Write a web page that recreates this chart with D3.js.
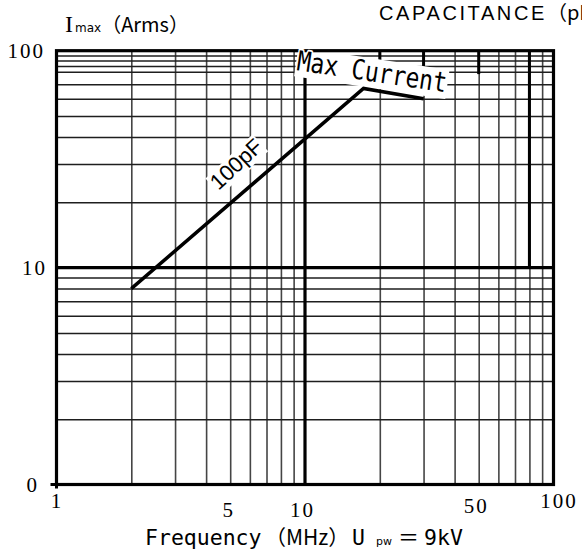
<!DOCTYPE html>
<html>
<head>
<meta charset="utf-8">
<script src="https://cdn.jsdelivr.net/npm/d3@7"></script>
<style>
  body { margin: 0; background: #fff; }
  svg { display: block; }
</style>
</head>
<body>
<div id="chart"></div>
<script>
// chart values
const curveFreq = [2, 17.2, 30];        // MHz
const curveAmps = [8, 67, 60];          // Arms
const xTickValues = [1, 5, 10, 50, 100];
const xTickLabels = ["1", "5", "10", "50", "100"];
const yTickValues = [1, 10, 100];
const yTickLabels = ["0", "10", "100"];
const xGridValues = [2, 3, 4, 5, 6, 7, 8, 9, 20, 30, 40, 50, 60, 70, 80, 90];
const yGridValues = [2, 3, 4, 5, 6, 7, 8, 9, 20, 30, 40, 50, 60, 70, 80, 85, 90, 95];
const heavyFreq = [10];
const heavyAmps = [10];
// heavy partial verticals: frequency and the lower end they reach from the top
const stubFreq = [20, 30, 50, 80];
const stubLow = [88, 79, 78, 10];

const W = 582, H = 550;
const pLeft = 56.5, pRight = 553.5, pTop = 50.7, pBottom = 484.5;

const svg = d3.select("#chart").append("svg")
  .attr("width", W)
  .attr("height", H);

const x = d3.scaleLog().domain([1, 100]).range([pLeft, pRight]);
const y = d3.scaleLog().domain([1, 100]).range([pBottom, pTop]);

// grid lines through the axes
const xGrid = svg.append("g")
  .attr("class", "grid x-grid")
  .attr("transform", "translate(0," + pBottom + ")")
  .call(d3.axisBottom(x).tickValues(xGridValues).tickSize(-(pBottom - pTop)).tickFormat(""));
xGrid.select(".domain").remove();
xGrid.selectAll("line").attr("stroke", "#454545").attr("stroke-width", 1.6);

const yGrid = svg.append("g")
  .attr("class", "grid y-grid")
  .attr("transform", "translate(" + pLeft + ",0)")
  .call(d3.axisLeft(y).tickValues(yGridValues).tickSize(-(pRight - pLeft)).tickFormat(""));
yGrid.select(".domain").remove();
yGrid.selectAll("line").attr("stroke", "#1e1e1e").attr("stroke-width", 1.5);

// heavy lines
svg.append("g").selectAll("line")
  .data(heavyFreq)
  .join("line")
    .attr("x1", d => x(d)).attr("x2", d => x(d))
    .attr("y1", pTop).attr("y2", pBottom)
    .attr("stroke", "#000").attr("stroke-width", 3.2);

svg.append("g").selectAll("line")
  .data(heavyAmps)
  .join("line")
    .attr("x1", pLeft).attr("x2", pRight)
    .attr("y1", d => y(d)).attr("y2", d => y(d))
    .attr("stroke", "#000").attr("stroke-width", 3.2);

svg.append("g").selectAll("line")
  .data(stubFreq)
  .join("line")
    .attr("x1", d => x(d)).attr("x2", d => x(d))
    .attr("y1", pTop).attr("y2", (d, i) => y(stubLow[i]))
    .attr("stroke", "#000").attr("stroke-width", 3);

// white patches behind the in-plot labels, text is added later on top
const labelLayer = [];
function patchLabel(transform, str, font, size, anchor, dy) {
  const g = svg.append("g").attr("transform", transform);
  const t = g.append("text")
    .attr("text-anchor", anchor)
    .attr("dy", dy)
    .style("font-family", font)
    .style("font-size", size + "px")
    .text(str);
  const b = t.node().getBBox();
  t.remove();
  g.append("rect")
    .attr("x", b.x - 1).attr("y", b.y + 2)
    .attr("width", b.width + 2).attr("height", b.height - 2)
    .attr("fill", "#fff");
  labelLayer.push({ transform, str, font, size, anchor, dy });
}
patchLabel("translate(296,70) rotate(8.5) scale(0.95,1.15)", "Max Current", "DejaVu Sans Mono", 24, "start", "0");
patchLabel("translate(236,164) rotate(-43)", "100pF", "Liberation Sans", 22, "middle", "0.35em");

// frame
svg.append("rect")
  .attr("x", pLeft).attr("y", pTop)
  .attr("width", pRight - pLeft).attr("height", pBottom - pTop)
  .attr("fill", "none").attr("stroke", "#000").attr("stroke-width", 3.2);

// small ticks at the origin
svg.append("line")
  .attr("x1", pLeft - 6).attr("x2", pLeft).attr("y1", y(1)).attr("y2", y(1))
  .attr("stroke", "#000").attr("stroke-width", 3);
svg.append("line")
  .attr("x1", x(1)).attr("x2", x(1)).attr("y1", pBottom).attr("y2", pBottom + 4)
  .attr("stroke", "#000").attr("stroke-width", 3);

// max current curve
const pts = curveFreq.map((f, i) => [f, curveAmps[i]]);
svg.append("path")
  .datum(pts)
  .attr("fill", "none")
  .attr("stroke", "#000")
  .attr("stroke-width", 3.5)
  .attr("stroke-linejoin", "miter")
  .attr("d", d3.line().x(d => x(d[0])).y(d => y(d[1])));

// in-plot label text
labelLayer.forEach(l => {
  svg.append("text")
    .attr("transform", l.transform)
    .attr("text-anchor", l.anchor)
    .attr("dy", l.dy)
    .style("font-family", l.font)
    .style("font-size", l.size + "px")
    .attr("fill", "#000")
    .attr("stroke", "#fff")
    .attr("stroke-width", 3)
    .attr("stroke-linejoin", "round")
    .style("paint-order", "stroke")
    .text(l.str);
});

// x tick labels
const xLabelPos = { 1: [0, 508], 5: [-2, 517], 10: [-3, 517], 50: [-3, 513], 100: [5, 508] };
const xAxisG = svg.append("g")
  .attr("class", "axis x-axis")
  .attr("transform", "translate(0," + pBottom + ")")
  .call(d3.axisBottom(x).tickValues(xTickValues).tickSize(0)
    .tickFormat((d, i) => xTickLabels[i]));
xAxisG.select(".domain").remove();
xAxisG.selectAll("text")
  .attr("dy", 0)
  .attr("y", d => xLabelPos[d][1] - pBottom)
  .attr("dx", d => xLabelPos[d][0])
  .style("font-family", "Liberation Serif")
  .style("font-size", "21px")
  .style("letter-spacing", "2px")
  .attr("fill", "#000");

// y tick labels
const yLabelX = { 1: -17.5, 10: -9.5, 100: -11.5 };
const yAxisG = svg.append("g")
  .attr("class", "axis y-axis")
  .attr("transform", "translate(" + pLeft + ",0)")
  .call(d3.axisLeft(y).tickValues(yTickValues).tickSize(0)
    .tickFormat((d, i) => yTickLabels[i]));
yAxisG.select(".domain").remove();
yAxisG.selectAll("text")
  .attr("x", d => yLabelX[d])
  .attr("dy", "0.34em")
  .style("font-family", "Liberation Serif")
  .style("font-size", "21px")
  .style("letter-spacing", "2px")
  .attr("fill", "#000");

// y axis title
const yt = svg.append("text").attr("x", 65).attr("y", 32).attr("fill", "#000");
yt.append("tspan").style("font-family", "Liberation Serif").style("font-size", "24px").text("I");
yt.append("tspan").attr("dx", 2).style("font-family", "DejaVu Sans").style("font-size", "12px").text("max");
yt.append("tspan").style("font-family", "Noto Sans CJK SC").style("font-size", "20px").text("（Arms）");

// x axis title
const xt = svg.append("text").attr("y", 545).attr("fill", "#000");
xt.append("tspan").attr("x", 145).style("font-family", "DejaVu Sans Mono").style("font-size", "21.5px").text("Frequency");
xt.append("tspan").attr("x", 265).style("font-family", "Noto Sans CJK SC").style("font-size", "21px").text("（MHz）");
xt.append("tspan").attr("x", 352).style("font-family", "DejaVu Sans Mono").style("font-size", "21.5px").text("U");
xt.append("tspan").attr("x", 376).style("font-family", "DejaVu Sans").style("font-size", "11px").text("pw");
xt.append("tspan").attr("x", 398).style("font-family", "Noto Sans CJK SC").style("font-size", "21px").text("＝");
xt.append("tspan").attr("x", 424).style("font-family", "DejaVu Sans Mono").style("font-size", "21.5px").text("9kV");

// chart title, running off the right edge
const tt = svg.append("text").attr("x", 379).attr("y", 20).attr("fill", "#000");
tt.append("tspan").style("font-family", "Liberation Sans").style("font-size", "20px").style("letter-spacing", "2.6px").text("CAPACITANCE");
tt.append("tspan").style("font-family", "Noto Sans CJK SC").style("font-size", "20px").text("（pF");
</script>
</body>
</html>
